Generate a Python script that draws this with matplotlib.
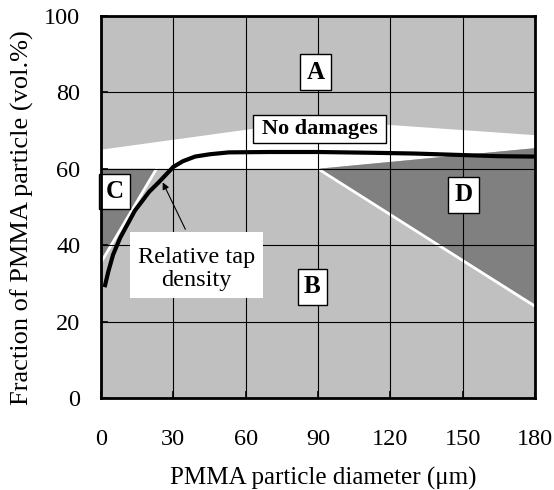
import matplotlib.pyplot as plt
from matplotlib.patches import Polygon, Rectangle

# regions of the damage map (diameter in um, fraction in vol.%)
band_top_x = [0, 90, 180]
band_top_y = [65.0, 72.8, 68.8]
band_bot_x = [180, 90, 0]
band_bot_y = [65.4, 60.0, 60.0]
d_region_x = [90, 180, 180]
d_region_y = [60.0, 65.4, 24.5]
c_region_x = [0, 23, 0]
c_region_y = [60.0, 60.0, 35.5]

# relative tap density curve
tap_x = [1.5, 3, 5, 8, 11, 14, 17, 20, 24, 27, 30, 34, 39, 45, 53, 70, 90, 112, 130, 150, 165, 180]
tap_y = [29.0, 33.0, 37.5, 42.0, 45.5, 49.0, 51.5, 54.0, 56.5, 58.5, 60.5, 62.0, 63.2, 63.8, 64.3,
         64.4, 64.4, 64.2, 64.0, 63.6, 63.3, 63.2]

xticks = [0, 30, 60, 90, 120, 150, 180]
yticks = [0, 20, 40, 60, 80, 100]

plt.rcParams['font.family'] = ['Liberation Serif', 'DejaVu Serif']

fig = plt.figure(figsize=(5.54, 4.90), dpi=100)
ax = fig.add_axes([0.1823, 0.1878, 0.7834, 0.7795])
ax.set_facecolor('#c0c0c0')

dark = '#808080'

band = list(zip(band_top_x, band_top_y)) + list(zip(band_bot_x, band_bot_y))
ax.add_patch(Polygon(band, closed=True, facecolor='white', edgecolor='none', zorder=1))
ax.add_patch(Polygon(list(zip(d_region_x, d_region_y)), closed=True, facecolor=dark,
                     edgecolor='none', zorder=1))
ax.add_patch(Polygon(list(zip(c_region_x, c_region_y)), closed=True, facecolor=dark,
                     edgecolor='none', zorder=1))
# white borders between the dark zones and zone B
ax.plot([d_region_x[0], d_region_x[2]], [d_region_y[0], d_region_y[2] - 0.5], color='white', lw=2, zorder=2)
ax.plot([c_region_x[1], c_region_x[2]], [c_region_y[1], c_region_y[2]], color='white', lw=2, zorder=2)

ax.set_xlim(0, 180)
ax.set_ylim(0, 100)
ax.set_xticks(xticks)
ax.set_yticks(yticks)
ax.grid(True, color='black', lw=0.8, zorder=3)
ax.set_axisbelow(False)
for s in ax.spines.values():
    s.set_linewidth(2)
    s.set_zorder(6)
ax.tick_params(direction='in', length=5, width=1.2, labelsize=17.5)
ax.tick_params(axis='x', pad=22)
ax.tick_params(axis='y', pad=15)

ax.plot(tap_x, tap_y, color='black', lw=3, zorder=4, solid_capstyle='butt')

box = dict(boxstyle='square,pad=0.25', facecolor='white', edgecolor='black', lw=1)
ax.text(89, 85.3, 'A', ha='center', va='center', fontsize=18, fontweight='bold', bbox=box, zorder=5)
ax.text(87.6, 29.1, 'B', ha='center', va='center', fontsize=18, fontweight='bold', bbox=box, zorder=5)
ax.text(5.6, 54, 'C', ha='center', va='center', fontsize=18, fontweight='bold', bbox=box, zorder=5)
ax.text(150.3, 53.2, 'D', ha='center', va='center', fontsize=18, fontweight='bold', bbox=box, zorder=5)

ax.add_patch(Rectangle((63.0, 66.75), 55.2, 7.35, facecolor='white', edgecolor='black', lw=1, zorder=5))
ax.text(90.6, 70.3, 'No damages', ha='center', va='center', fontsize=16, fontweight='bold', zorder=6)

ax.add_patch(Rectangle((12, 26.1), 55.3, 17.4, facecolor='white', edgecolor='none', zorder=5))
ax.text(39.7, 33.8, 'Relative tap\ndensity', ha='center', va='center', fontsize=17.5,
        linespacing=1.1, zorder=6)
ax.annotate('', xy=(25.1, 57.1), xytext=(35.5, 43.5),
            arrowprops=dict(arrowstyle='-|>', color='black', lw=0.8, mutation_scale=10), zorder=6)

ax.set_xlabel('PMMA particle diameter (\u03bcm)', fontsize=18)
ax.set_ylabel('Fraction of PMMA particle (vol.%)', fontsize=19)
ax.xaxis.set_label_coords(0.511, -0.181)
ax.yaxis.set_label_coords(-0.155, 0.4725)

fig.savefig('out.png', dpi=100)
